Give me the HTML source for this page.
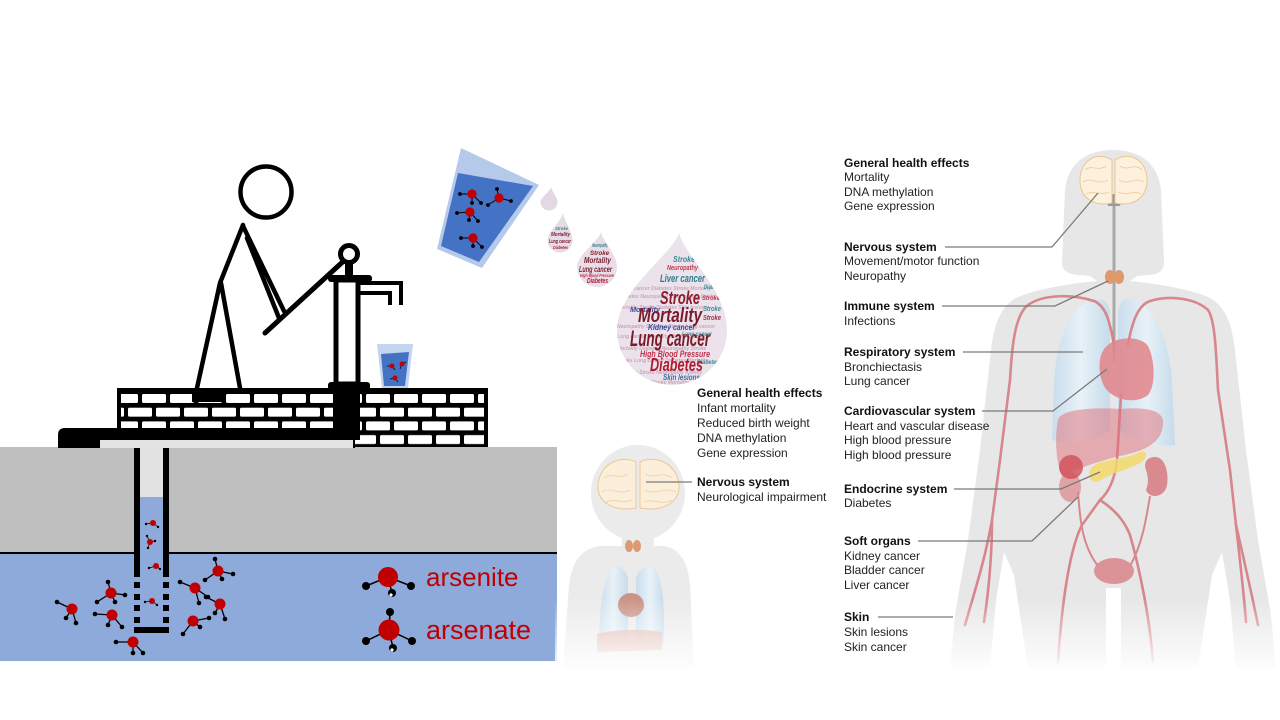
<!DOCTYPE html>
<html><head><meta charset="utf-8"><style>
html,body{margin:0;padding:0;background:#fff;}
svg{display:block;}
text{font-family:"Liberation Sans",Arial,sans-serif;}
.wc{font-family:"Liberation Serif",serif;font-weight:bold;font-style:italic;}
</style></head><body>
<svg width="1280" height="720" viewBox="0 0 1280 720" xmlns="http://www.w3.org/2000/svg">
<defs>
<pattern id="brick" patternUnits="userSpaceOnUse" x="114" y="394" width="28" height="27.4">
<rect x="0" y="0" width="24" height="9" rx="1.5" fill="#fff"/>
<rect x="14" y="13.7" width="24" height="9" rx="1.5" fill="#fff"/>
<rect x="-14" y="13.7" width="24" height="9" rx="1.5" fill="#fff"/>
</pattern>
<linearGradient id="fade" x1="0" y1="0" x2="0" y2="1">
<stop offset="0" stop-color="#fff" stop-opacity="0"/>
<stop offset="1" stop-color="#fff" stop-opacity="0.95"/>
</linearGradient>
<linearGradient id="lung" x1="0" y1="0" x2="1" y2="0">
<stop offset="0" stop-color="#c9dded"/>
<stop offset="0.5" stop-color="#e8f1f7"/>
<stop offset="1" stop-color="#c6dbeb"/>
</linearGradient>
<clipPath id="dropBig"><path d="M679,233 C684,255 727,290 727,330 A55,55 0 0 1 617,330 C617,290 672,255 679,233 Z"/></clipPath>
<clipPath id="drop3"><path d="M601,232 C603,242 617,255 617,267 A20,20 0 0 1 577,267 C577,255 598,242 601,232 Z"/></clipPath>
<clipPath id="drop2"><path d="M563,213 C565,222 572.5,232 572.5,240 A12.5,12.5 0 0 1 547.5,240 C547.5,232 561,222 563,213 Z"/></clipPath>
</defs>

<rect width="1280" height="720" fill="#fff"/>

<!-- ground -->
<rect x="0" y="447" width="557" height="106" fill="#bfbfbf"/>
<rect x="0" y="553" width="557" height="108" fill="#8eaadb"/>
<line x1="0" y1="553" x2="557" y2="553" stroke="#000" stroke-width="2"/>

<!-- pipe -->
<rect x="140" y="447" width="23" height="50" fill="#e2e2e2"/>
<rect x="140" y="497" width="23" height="130" fill="#8eaadb"/>
<rect x="134" y="447" width="6" height="130" fill="#000"/>
<rect x="163" y="447" width="6" height="130" fill="#000"/>
<g fill="#000">
<rect x="134" y="582" width="6" height="6"/><rect x="163" y="582" width="6" height="6"/>
<rect x="134" y="594" width="6" height="6"/><rect x="163" y="594" width="6" height="6"/>
<rect x="134" y="605" width="6" height="6"/><rect x="163" y="605" width="6" height="6"/>
<rect x="134" y="617" width="6" height="6"/><rect x="163" y="617" width="6" height="6"/>
<rect x="134" y="627" width="35" height="6"/>
</g>

<!-- ground molecules -->
<g stroke="#000" stroke-width="1.3">
<line x1="72" y1="609" x2="57" y2="602"/><line x1="72" y1="609" x2="66" y2="618"/><line x1="72" y1="609" x2="76" y2="623"/>
<line x1="111" y1="593" x2="108" y2="582"/><line x1="111" y1="593" x2="97" y2="602"/><line x1="111" y1="593" x2="115" y2="602"/><line x1="111" y1="593" x2="125" y2="595"/>
<line x1="112" y1="615" x2="95" y2="614"/><line x1="112" y1="615" x2="108" y2="625"/><line x1="112" y1="615" x2="122" y2="627"/>
<line x1="133" y1="642" x2="116" y2="642"/><line x1="133" y1="642" x2="133" y2="653"/><line x1="133" y1="642" x2="143" y2="653"/>
<line x1="195" y1="588" x2="180" y2="582"/><line x1="195" y1="588" x2="199" y2="603"/><line x1="195" y1="588" x2="208" y2="597"/>
<line x1="193" y1="621" x2="183" y2="634"/><line x1="193" y1="621" x2="200" y2="627"/><line x1="193" y1="621" x2="209" y2="618"/>
<line x1="218" y1="571" x2="215" y2="559"/><line x1="218" y1="571" x2="205" y2="580"/><line x1="218" y1="571" x2="222" y2="579"/><line x1="218" y1="571" x2="233" y2="574"/>
<line x1="220" y1="604" x2="206" y2="597"/><line x1="220" y1="604" x2="215" y2="613"/><line x1="220" y1="604" x2="225" y2="619"/>
</g>
<g fill="#c00000">
<circle cx="72" cy="609" r="5.5"/><circle cx="111" cy="593" r="5.5"/><circle cx="112" cy="615" r="5.5"/><circle cx="133" cy="642" r="5.5"/>
<circle cx="195" cy="588" r="5.5"/><circle cx="193" cy="621" r="5.5"/><circle cx="218" cy="571" r="5.5"/><circle cx="220" cy="604" r="5.5"/>
</g>
<g fill="#000">
<circle cx="57" cy="602" r="2.3"/><circle cx="66" cy="618" r="2.3"/><circle cx="76" cy="623" r="2.3"/>
<circle cx="108" cy="582" r="2.3"/><circle cx="97" cy="602" r="2.3"/><circle cx="115" cy="602" r="2.3"/><circle cx="125" cy="595" r="2.3"/>
<circle cx="95" cy="614" r="2.3"/><circle cx="108" cy="625" r="2.3"/><circle cx="122" cy="627" r="2.3"/>
<circle cx="116" cy="642" r="2.3"/><circle cx="133" cy="653" r="2.3"/><circle cx="143" cy="653" r="2.3"/>
<circle cx="180" cy="582" r="2.3"/><circle cx="199" cy="603" r="2.3"/><circle cx="208" cy="597" r="2.3"/>
<circle cx="183" cy="634" r="2.3"/><circle cx="200" cy="627" r="2.3"/><circle cx="209" cy="618" r="2.3"/>
<circle cx="215" cy="559" r="2.3"/><circle cx="205" cy="580" r="2.3"/><circle cx="222" cy="579" r="2.3"/><circle cx="233" cy="574" r="2.3"/>
<circle cx="206" cy="597" r="2.3"/><circle cx="215" cy="613" r="2.3"/><circle cx="225" cy="619" r="2.3"/>
</g>
<!-- pipe small molecules -->
<g stroke="#000" stroke-width="0.8">
<line x1="153" y1="523" x2="146" y2="524"/><line x1="153" y1="523" x2="158" y2="527"/>
<line x1="150" y1="542" x2="147" y2="536"/><line x1="150" y1="542" x2="155" y2="541"/><line x1="150" y1="542" x2="148" y2="548"/>
<line x1="156" y1="566" x2="149" y2="568"/><line x1="156" y1="566" x2="160" y2="569"/>
<line x1="152" y1="601" x2="145" y2="602"/><line x1="152" y1="601" x2="157" y2="605"/>
</g>
<g fill="#c00000"><circle cx="153" cy="523" r="3"/><circle cx="150" cy="542" r="3"/><circle cx="156" cy="566" r="3"/><circle cx="152" cy="601" r="3"/></g>
<g fill="#000"><circle cx="146" cy="524" r="1.2"/><circle cx="158" cy="527" r="1.2"/><circle cx="147" cy="536" r="1.2"/><circle cx="155" cy="541" r="1.2"/><circle cx="148" cy="548" r="1.2"/><circle cx="149" cy="568" r="1.2"/><circle cx="160" cy="569" r="1.2"/><circle cx="145" cy="602" r="1.2"/><circle cx="157" cy="605" r="1.2"/></g>

<!-- legend -->
<g stroke="#000" stroke-width="1.5">
<line x1="388" y1="577" x2="366" y2="586"/><line x1="388" y1="577" x2="411" y2="586"/><line x1="388" y1="577" x2="392" y2="593"/>
<line x1="389" y1="630" x2="390" y2="612"/><line x1="389" y1="630" x2="366" y2="641"/><line x1="389" y1="630" x2="412" y2="641"/><line x1="389" y1="630" x2="393" y2="648"/>
</g>
<circle cx="388" cy="577" r="10" fill="#c00000"/>
<circle cx="389" cy="630" r="10.5" fill="#c00000"/>
<g fill="#000">
<circle cx="366" cy="586" r="4"/><circle cx="411" cy="586" r="4"/><circle cx="392" cy="593" r="4"/>
<circle cx="390" cy="612" r="4"/><circle cx="366" cy="641" r="4"/><circle cx="412" cy="641" r="4"/><circle cx="393" cy="648" r="4"/>
</g>
<g fill="#fff"><circle cx="391" cy="595" r="1.6"/><circle cx="392" cy="650" r="1.6"/></g>
<text x="426" y="586" font-size="26" fill="#c00000">arsenite</text>
<text x="426" y="639" font-size="27" fill="#c00000">arsenate</text>

<!-- brick wall -->
<rect x="117" y="388" width="371" height="59" fill="#000"/>
<rect x="121" y="392" width="363" height="55" fill="url(#brick)"/>
<path d="M58,435 Q58,428 65,428 L355,428 L355,448 L58,448 Z" fill="#000"/>
<rect x="100" y="440" width="253" height="8" fill="#e3e3e3"/>
<rect x="333" y="384" width="27" height="56" fill="#000"/>
<rect x="192" y="388" width="33" height="14" fill="#000"/>

<!-- stick figure -->
<g stroke="#000" stroke-width="4.5" fill="none" stroke-linecap="round" stroke-linejoin="round">
<circle cx="266" cy="192" r="25.5" fill="#fff"/>
<polyline points="243,225 220,283 197,388"/>
<line x1="221" y1="283" x2="240" y2="388"/>
<line x1="243" y1="226" x2="284" y2="311"/>
<line x1="247" y1="238" x2="279" y2="318"/>
<line x1="265" y1="333" x2="348" y2="257" stroke-width="5"/>
</g>
<!-- pump -->
<rect x="345" y="262" width="8" height="16" fill="#000"/>
<circle cx="349" cy="254" r="8.5" fill="#fff" stroke="#000" stroke-width="5"/>
<rect x="336" y="280" width="22" height="104" fill="#fff" stroke="#000" stroke-width="5"/>
<rect x="328" y="275" width="44" height="7" rx="3" fill="#000"/>
<path d="M358,283 H401 V305" fill="none" stroke="#000" stroke-width="4"/>
<path d="M360,293 H390 V305" fill="none" stroke="#000" stroke-width="4"/>
<rect x="328" y="382" width="42" height="8" rx="3" fill="#000"/>

<!-- small glass -->
<polygon points="377,344 413,344 408,388 382,388" fill="#c3d4ee"/>
<polygon points="381,354 409,352 405,386 384,386" fill="#4472c4"/>
<g stroke="#000" stroke-width="0.7"><line x1="392" y1="366" x2="387" y2="366"/><line x1="392" y1="366" x2="395" y2="370"/><line x1="402" y1="364" x2="406" y2="362"/><line x1="402" y1="364" x2="400" y2="369"/><line x1="395" y1="378" x2="390" y2="379"/><line x1="395" y1="378" x2="398" y2="382"/></g>
<g fill="#c00000"><circle cx="392" cy="366" r="2.5"/><circle cx="402" cy="364" r="2.5"/><circle cx="395" cy="378" r="2.5"/></g>

<!-- big glass -->
<polygon points="461,148 539,185 482,268 437,249" fill="#b5c9ea"/>
<polygon points="458,173 533,186 479,262 441,246" fill="#4472c4"/>
<g stroke="#000" stroke-width="1">
<line x1="472" y1="194" x2="460" y2="194"/><line x1="472" y1="194" x2="472" y2="203"/><line x1="472" y1="194" x2="481" y2="203"/>
<line x1="499" y1="198" x2="497" y2="189"/><line x1="499" y1="198" x2="488" y2="205"/><line x1="499" y1="198" x2="511" y2="201"/>
<line x1="470" y1="212" x2="457" y2="213"/><line x1="470" y1="212" x2="469" y2="220"/><line x1="470" y1="212" x2="478" y2="221"/>
<line x1="473" y1="238" x2="461" y2="238"/><line x1="473" y1="238" x2="473" y2="246"/><line x1="473" y1="238" x2="482" y2="247"/>
</g>
<g fill="#c00000"><circle cx="472" cy="194" r="4.6"/><circle cx="499" cy="198" r="4.6"/><circle cx="470" cy="212" r="4.6"/><circle cx="473" cy="238" r="4.6"/></g>
<g fill="#000"><circle cx="460" cy="194" r="1.9"/><circle cx="472" cy="203" r="1.9"/><circle cx="481" cy="203" r="1.9"/><circle cx="497" cy="189" r="1.9"/><circle cx="488" cy="205" r="1.9"/><circle cx="511" cy="201" r="1.9"/><circle cx="457" cy="213" r="1.9"/><circle cx="469" cy="220" r="1.9"/><circle cx="478" cy="221" r="1.9"/><circle cx="461" cy="238" r="1.9"/><circle cx="473" cy="246" r="1.9"/><circle cx="482" cy="247" r="1.9"/></g>

<!-- drops -->
<path d="M551,187 C552,192 557.5,197 557.5,202 A8.5,8.5 0 0 1 540.5,202 C540.5,197 550,192 551,187 Z" fill="#e3d8e3"/>
<path d="M563,213 C565,222 572.5,232 572.5,240 A12.5,12.5 0 0 1 547.5,240 C547.5,232 561,222 563,213 Z" fill="#e6dce6"/>
<path d="M601,232 C603,242 617,255 617,267 A20,20 0 0 1 577,267 C577,255 598,242 601,232 Z" fill="#e8dee8"/>
<path d="M679,233 C684,255 727,290 727,330 A55,55 0 0 1 617,330 C617,290 672,255 679,233 Z" fill="#ebe2eb"/>

<g clip-path="url(#drop2)" class="wc">
<text x="555" y="230" font-size="4.5" fill="#3a7f8c" textLength="13" lengthAdjust="spacingAndGlyphs">Stroke</text>
<text x="551" y="236" font-size="5" fill="#7a1a2a" textLength="19" lengthAdjust="spacingAndGlyphs">Mortality</text>
<text x="549" y="243" font-size="5.5" fill="#7a1a2a" textLength="22" lengthAdjust="spacingAndGlyphs">Lung cancer</text>
<text x="553" y="249" font-size="4.5" fill="#b01a30" textLength="15" lengthAdjust="spacingAndGlyphs">Diabetes</text>
</g>
<g clip-path="url(#drop3)" class="wc">
<text x="592" y="247" font-size="5" fill="#3a7f8c" textLength="16" lengthAdjust="spacingAndGlyphs">Neuropathy</text>
<text x="590" y="255" font-size="6.5" fill="#7a1a2a" textLength="19" lengthAdjust="spacingAndGlyphs">Stroke</text>
<text x="584" y="263" font-size="8" fill="#7a1a2a" textLength="27" lengthAdjust="spacingAndGlyphs">Mortality</text>
<text x="579" y="272" font-size="8" fill="#7a1a2a" textLength="33" lengthAdjust="spacingAndGlyphs">Lung cancer</text>
<text x="580" y="277" font-size="4.5" fill="#c0304a" textLength="34" lengthAdjust="spacingAndGlyphs">High Blood Pressure</text>
<text x="587" y="283" font-size="7" fill="#b01a30" textLength="21" lengthAdjust="spacingAndGlyphs">Diabetes</text>
</g>
<g clip-path="url(#dropBig)" class="wc">
<g font-size="5" fill="#c9a7b8">
<text x="620" y="290">Lung cancer Diabetes Stroke Mortality</text>
<text x="618" y="298">Diabetes Neuropathy Lung cancer Stroke</text>
<text x="617" y="309">Mortality Stroke Diabetes Skin lesions</text>
<text x="617" y="328">Neuropathy Diabetes Stroke Lung cancer</text>
<text x="617" y="338">Lung cancer Mortality Stroke Diabetes</text>
<text x="617" y="350">Mortality Diabetes Neuropathy Stroke</text>
<text x="617" y="362">Stroke Lung cancer Diabetes Mortality</text>
<text x="617" y="374">Diabetes Stroke Neuropathy Kidney</text>
<text x="620" y="384">Liver cancer Stroke Mortality</text>
</g>
<text x="673" y="262" font-size="8" fill="#3a8a9a" textLength="22" lengthAdjust="spacingAndGlyphs">Stroke</text>
<text x="667" y="270" font-size="7" fill="#c23b4e" textLength="31" lengthAdjust="spacingAndGlyphs">Neuropathy</text>
<text x="660" y="282" font-size="11" fill="#2f7d8c" textLength="45" lengthAdjust="spacingAndGlyphs">Liver cancer</text>
<text x="704" y="289" font-size="6" fill="#3a8a9a" textLength="18" lengthAdjust="spacingAndGlyphs">Diabetes</text>
<text x="660" y="304" font-size="18" fill="#8a1c2c" textLength="40" lengthAdjust="spacingAndGlyphs">Stroke</text>
<text x="702" y="300" font-size="6" fill="#c0304a" textLength="18" lengthAdjust="spacingAndGlyphs">Stroke</text>
<text x="630" y="312" font-size="7" fill="#3b4a9a" textLength="30" lengthAdjust="spacingAndGlyphs">Mortality</text>
<text x="703" y="311" font-size="7" fill="#3a8a9a" textLength="18" lengthAdjust="spacingAndGlyphs">Stroke</text>
<text x="638" y="322" font-size="20" fill="#7a1a2a" textLength="64" lengthAdjust="spacingAndGlyphs">Mortality</text>
<text x="703" y="320" font-size="7" fill="#a03040" textLength="18" lengthAdjust="spacingAndGlyphs">Stroke</text>
<text x="648" y="330" font-size="8" fill="#3b4a9a" textLength="47" lengthAdjust="spacingAndGlyphs">Kidney cancer</text>
<text x="630" y="346" font-size="22" fill="#7a1a2a" textLength="80" lengthAdjust="spacingAndGlyphs">Lung cancer</text>
<text x="682" y="336" font-size="6" fill="#3a8a9a" textLength="30" lengthAdjust="spacingAndGlyphs">Lung cancer</text>
<text x="640" y="357" font-size="9" fill="#c0304a" textLength="70" lengthAdjust="spacingAndGlyphs">High Blood Pressure</text>
<text x="697" y="364" font-size="6" fill="#3a8a9a" textLength="22" lengthAdjust="spacingAndGlyphs">Diabetes</text>
<text x="650" y="371" font-size="18" fill="#b01a30" textLength="53" lengthAdjust="spacingAndGlyphs">Diabetes</text>
<text x="663" y="380" font-size="8" fill="#3a6aa0" textLength="37" lengthAdjust="spacingAndGlyphs">Skin lesions</text>
</g>

<!-- child figure -->
<ellipse cx="638" cy="493" rx="47" ry="48" fill="#ebebeb"/>
<rect x="622" y="530" width="32" height="22" fill="#ebebeb"/>
<path d="M600,546 C583,548 572,560 569,585 L563,668 L694,668 L690,585 C688,560 678,548 664,546 Z" fill="#ebebeb"/>
<path d="M614,566 C604,574 600,600 599,642 C610,646 622,642 628,636 L628,578 C625,569 619,564 614,566 Z" fill="url(#lung)"/>
<path d="M652,566 C662,574 665,600 664,642 C653,646 641,642 636,636 L636,578 C639,569 646,564 652,566 Z" fill="url(#lung)"/>
<ellipse cx="631" cy="605" rx="13" ry="12" fill="#c98b7c" opacity="0.9"/>
<path d="M597,634 C610,630 640,628 662,632 L662,650 L597,652 Z" fill="#e2b1a8" opacity="0.8"/>
<ellipse cx="629" cy="546" rx="4" ry="6" fill="#dc9a72"/><ellipse cx="637" cy="546" rx="4" ry="6" fill="#dc9a72"/>
<path d="M636,462 C622,455 600,462 598,485 C597,503 615,512 636,508 Z" fill="#fbeedb" stroke="#ecc794" stroke-width="1"/>
<path d="M640,462 C654,455 677,462 679,485 C680,503 662,512 640,508 Z" fill="#fbeedb" stroke="#ecc794" stroke-width="1"/>
<g fill="none" stroke="#efd0a4" stroke-width="0.8">
<path d="M604,478 C612,472 620,480 628,474"/><path d="M602,492 C612,486 618,496 630,490"/><path d="M606,502 C616,498 622,504 632,500"/>
<path d="M646,474 C654,480 662,470 672,478"/><path d="M645,490 C656,496 664,486 676,492"/><path d="M644,502 C654,498 662,506 672,500"/>
</g>
<rect x="555" y="598" width="145" height="72" fill="url(#fade)"/>
<line x1="646" y1="482" x2="692" y2="482" stroke="#7a7a7a" stroke-width="1.3"/>
<g font-size="12" fill="#222">
<text x="697" y="397" font-weight="bold" fill="#111">General health effects</text>
<text x="697" y="412">Infant mortality</text>
<text x="697" y="427">Reduced birth weight</text>
<text x="697" y="442">DNA methylation</text>
<text x="697" y="457">Gene expression</text>
<text x="697" y="486" font-weight="bold" fill="#111">Nervous system</text>
<text x="697" y="501">Neurological impairment</text>
</g>

<!-- adult figure -->
<path d="M1113,150 C1088,150 1068,162 1065,190 L1062,262 C1062,271 1068,274 1078,275 L1090,276 L1097,281 C1068,284 1035,289 1016,298 C1000,307 994,325 991,350 L980,450 L968,540 L955,615 L950,668 L990,668 L996,600 L1004,552 L1014,575 L1028,668 L1106,668 L1106,588 L1121,588 L1121,668 L1198,668 L1212,575 L1222,552 L1230,600 L1236,668 L1276,668 L1271,615 L1258,540 L1246,450 L1235,350 C1232,325 1226,307 1210,298 C1191,289 1158,284 1130,281 L1137,276 L1149,275 C1159,274 1164,271 1164,262 L1161,190 C1158,162 1138,150 1113,150 Z" fill="#e7e7e7"/>
<!-- lungs -->
<path d="M1098,299 C1075,300 1058,330 1054,380 L1052,440 C1070,446 1095,440 1110,430 L1110,312 C1108,302 1104,299 1098,299 Z" fill="url(#lung)"/>
<path d="M1128,299 C1150,300 1168,330 1172,380 L1175,445 C1155,448 1130,440 1118,430 L1118,312 C1120,302 1123,299 1128,299 Z" fill="url(#lung)"/>
<!-- spinal -->
<line x1="1114" y1="200" x2="1114" y2="362" stroke="#a9a9a9" stroke-width="3"/>
<path d="M1108,206 C1106,198 1110,194 1114,194 C1118,194 1122,198 1120,206 Z" fill="#9a9a9a"/>
<!-- brain -->
<path d="M1112,160 C1100,152 1082,157 1080,178 C1079,198 1094,207 1112,203 Z" fill="#fdf0dd" stroke="#ebc58f" stroke-width="1"/>
<path d="M1115,160 C1127,152 1145,157 1147,178 C1148,198 1133,207 1115,203 Z" fill="#fdf0dd" stroke="#ebc58f" stroke-width="1"/>
<g fill="none" stroke="#eecb9c" stroke-width="0.8">
<path d="M1085,170 C1092,164 1098,172 1106,166"/><path d="M1083,182 C1092,176 1098,186 1108,180"/><path d="M1086,194 C1094,190 1100,196 1109,192"/>
<path d="M1120,166 C1128,172 1134,162 1142,170"/><path d="M1119,180 C1128,186 1136,176 1144,182"/><path d="M1118,192 C1126,196 1134,190 1141,194"/>
</g>
<!-- thyroid -->
<ellipse cx="1110" cy="277" rx="5" ry="7" fill="#e09a6a"/><ellipse cx="1119" cy="277" rx="5" ry="7" fill="#e09a6a"/>
<!-- arteries -->
<g fill="none" stroke="#d67c82" stroke-width="2.6" stroke-linecap="round" opacity="0.9">
<path d="M1114,345 C1110,322 1106,306 1094,301 C1075,295 1045,293 1028,305 C1015,315 1012,345 1010,380 L1000,460 L992,520"/>
<path d="M992,520 C985,560 975,590 965,625"/>
<path d="M992,520 C992,560 988,595 984,622"/>
<path d="M1128,345 C1132,322 1138,305 1150,301 C1170,295 1195,298 1208,310 C1215,320 1216,350 1218,390 L1230,470 L1236,525"/>
<path d="M1236,525 C1244,560 1252,595 1258,625"/>
<path d="M1236,525 C1240,560 1244,595 1246,622"/>
<path d="M1121,395 L1117,460 C1115,480 1108,493 1100,500 L1082,525 C1070,548 1062,600 1058,662"/>
<path d="M1100,500 C1115,510 1124,520 1130,535 C1140,570 1150,620 1153,662"/>
</g>
<!-- heart -->
<path d="M1108,345 C1098,352 1097,372 1104,386 C1112,400 1135,405 1148,395 C1156,385 1155,360 1148,346 C1140,335 1116,337 1108,345 Z" fill="#e0868c" opacity="0.88"/>
<!-- liver -->
<path d="M1058,420 C1060,410 1090,407 1120,409 C1145,407 1161,410 1163,420 C1164,440 1150,450 1120,456 C1095,462 1075,470 1062,476 C1055,460 1055,435 1058,420 Z" fill="#e06e78" opacity="0.5"/>
<ellipse cx="1070" cy="487" rx="11" ry="15" fill="#dc8c90" opacity="0.75"/>
<ellipse cx="1071" cy="467" rx="12" ry="12" fill="#d24e58" opacity="0.8"/>
<path d="M1155,457 C1166,457 1169,475 1167,485 C1165,497 1150,500 1146,490 C1149,483 1148,476 1146,470 C1143,462 1148,457 1155,457 Z" fill="#d88a8e"/>
<path d="M1090,470 C1096,458 1120,462 1140,452 C1147,449 1148,457 1142,462 C1128,470 1110,473 1100,481 C1092,485 1087,477 1090,470 Z" fill="#f3d86a" opacity="0.85"/>
<g fill="none" stroke="#d8888c" stroke-width="2"><path d="M1078,492 C1080,520 1082,545 1098,566"/><path d="M1150,496 C1146,520 1142,545 1130,566"/></g>
<ellipse cx="1114" cy="571" rx="20" ry="13" fill="#d98a8e" opacity="0.9"/>
<rect x="940" y="598" width="340" height="72" fill="url(#fade)"/>

<!-- adult leader lines -->
<g fill="none" stroke="#7a7a7a" stroke-width="1.3">
<path d="M945,247 H1052 L1098,193"/>
<path d="M942,306 H1055 L1108,281"/>
<path d="M963,352 H1083"/>
<path d="M982,411 H1053 L1107,369"/>
<path d="M954,489 H1061 L1100,472"/>
<path d="M918,541 H1032 L1078,497"/>
<path d="M878,617 H953"/>
</g>
<g font-size="12" fill="#222">
<text x="844" y="167" font-weight="bold" fill="#111">General health effects</text>
<text x="844" y="181">Mortality</text>
<text x="844" y="196">DNA methylation</text>
<text x="844" y="210">Gene expression</text>
<text x="844" y="251" font-weight="bold" fill="#111">Nervous system</text>
<text x="844" y="265">Movement/motor function</text>
<text x="844" y="280">Neuropathy</text>
<text x="844" y="310" font-weight="bold" fill="#111">Immune system</text>
<text x="844" y="325">Infections</text>
<text x="844" y="356" font-weight="bold" fill="#111">Respiratory system</text>
<text x="844" y="371">Bronchiectasis</text>
<text x="844" y="385">Lung cancer</text>
<text x="844" y="415" font-weight="bold" fill="#111">Cardiovascular system</text>
<text x="844" y="430">Heart and vascular disease</text>
<text x="844" y="444">High blood pressure</text>
<text x="844" y="459">High blood pressure</text>
<text x="844" y="493" font-weight="bold" fill="#111">Endocrine system</text>
<text x="844" y="507">Diabetes</text>
<text x="844" y="545" font-weight="bold" fill="#111">Soft organs</text>
<text x="844" y="560">Kidney cancer</text>
<text x="844" y="574">Bladder cancer</text>
<text x="844" y="589">Liver cancer</text>
<text x="844" y="621" font-weight="bold" fill="#111">Skin</text>
<text x="844" y="636">Skin lesions</text>
<text x="844" y="651">Skin cancer</text>
</g>
</svg>
</body></html>
